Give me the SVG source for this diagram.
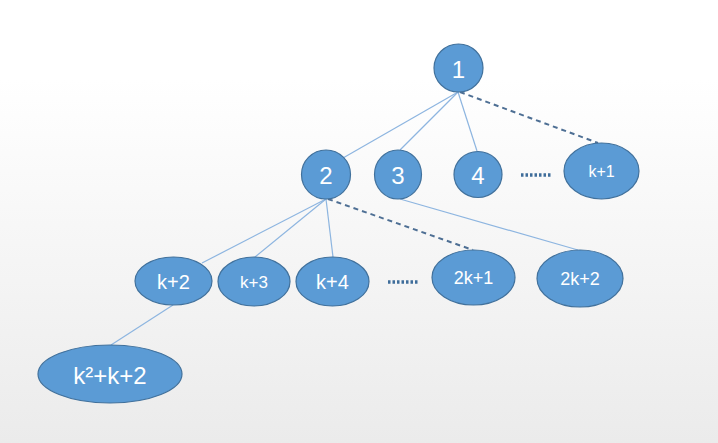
<svg xmlns="http://www.w3.org/2000/svg" width="718" height="443" viewBox="0 0 718 443">
<defs>
<linearGradient id="bg" x1="0" y1="0" x2="0" y2="1">
<stop offset="0" stop-color="#ffffff"/>
<stop offset="0.18" stop-color="#ffffff"/>
<stop offset="1" stop-color="#ebebeb"/>
</linearGradient>
<style>
.n{fill:#5B9BD5;stroke:#41719C;stroke-width:1.2}
.t{fill:#ffffff;font-family:"Liberation Sans",Arial,sans-serif;text-anchor:middle;dominant-baseline:central}
.l{stroke:#8DB5E0;stroke-width:1.2;fill:none}
.d{stroke:#4E6F94;stroke-width:2;stroke-dasharray:5,4;fill:none}
.dots{stroke:#3F6D9A;stroke-width:3.5;stroke-dasharray:2.5,2;fill:none}
</style>
</defs>
<rect width="718" height="443" fill="url(#bg)"/>
<g id="connectors">
<line class="l" x1="458" y1="92" x2="343" y2="158"/>
<line class="l" x1="458" y1="92" x2="400" y2="150"/>
<line class="l" x1="458" y1="92" x2="477" y2="151"/>
<line class="d" x1="460" y1="92" x2="598" y2="143"/>
<line class="l" x1="326" y1="199" x2="202" y2="263"/>
<line class="l" x1="326" y1="199" x2="255" y2="257"/>
<line class="l" x1="326" y1="199" x2="333" y2="257"/>
<line class="d" x1="328" y1="199" x2="473" y2="250"/>
<line class="l" x1="400" y1="199" x2="578" y2="250"/>
<line class="l" x1="173" y1="305" x2="111" y2="345"/>
<line class="dots" x1="521" y1="175" x2="552" y2="175"/>
<line class="dots" x1="388" y1="282" x2="419" y2="282"/>
</g>
<g id="n1"><ellipse class="n" cx="458.5" cy="68" rx="24.5" ry="24"/><text class="t" x="458.5" y="69" font-size="24">1</text></g>
<g id="n2"><ellipse class="n" cx="326" cy="174.5" rx="24.5" ry="24.5"/><text class="t" x="326" y="175.5" font-size="24">2</text></g>
<g id="n3"><ellipse class="n" cx="398" cy="174.5" rx="23.5" ry="24.5"/><text class="t" x="398" y="175.5" font-size="24">3</text></g>
<g id="n4"><ellipse class="n" cx="478" cy="174.5" rx="24" ry="23"/><text class="t" x="478" y="175.5" font-size="24">4</text></g>
<g id="nk1"><ellipse class="n" cx="601.5" cy="171" rx="37.5" ry="28"/><text class="t" x="601.5" y="171" font-size="16">k+1</text></g>
<g id="nk2"><ellipse class="n" cx="173.5" cy="281" rx="38.5" ry="24"/><text class="t" x="173.5" y="281.5" font-size="20">k+2</text></g>
<g id="nk3"><ellipse class="n" cx="254" cy="281.5" rx="36" ry="24.5"/><text class="t" x="254" y="282" font-size="17">k+3</text></g>
<g id="nk4"><ellipse class="n" cx="332.5" cy="281.5" rx="36.5" ry="24.5"/><text class="t" x="332.5" y="282" font-size="20">k+4</text></g>
<g id="n2k1"><ellipse class="n" cx="473.5" cy="277.5" rx="41.5" ry="27.5"/><text class="t" x="473.5" y="278" font-size="18">2k+1</text></g>
<g id="n2k2"><ellipse class="n" cx="580" cy="278.5" rx="43" ry="28.5"/><text class="t" x="580" y="279" font-size="18">2k+2</text></g>
<g id="nk2k2"><ellipse class="n" cx="110" cy="374" rx="72" ry="29"/><text class="t" x="110" y="375" font-size="24">k²+k+2</text></g>
</svg>
